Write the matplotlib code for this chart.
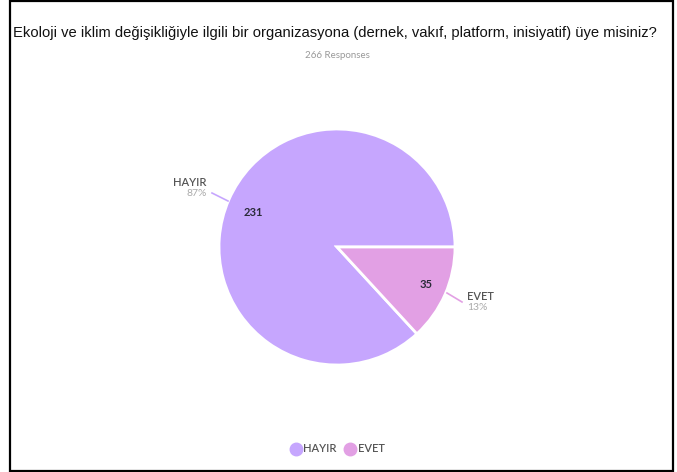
import matplotlib

matplotlib.use("Agg")

import matplotlib.pyplot as plt
from matplotlib.patches import Rectangle
from matplotlib.lines import Line2D

labels = ["HAYIR", "EVET"]
counts = [231, 35]
percents = ["87%", "13%"]
colors = ["#C6A6FE", "#E2A0E4"]

W, H = 677, 472
fig = plt.figure(figsize=(W / 100, H / 100), dpi=100)
plt.rcParams["font.family"] = ["Liberation Sans", "DejaVu Sans"]
lab_font = ["Lato", "DejaVu Sans"]


def fx(x):
    return x / W


def fy(y):
    return 1 - y / H


# frame around the whole picture
fig.patches.append(Rectangle((fx(10), fy(471)), fx(663), 470 / H, transform=fig.transFigure,
                             fill=False, edgecolor="black", linewidth=1.6))

fig.text(fx(335), fy(33), "Ekoloji ve iklim değişikliğiyle ilgili bir organizasyona (dernek, vakıf, platform, inisiyatif) üye misiniz?",
         ha="center", va="center", fontsize=10.65, color="#111111")
fig.text(fx(337), fy(56), "266 Responses", ha="center", va="center", fontsize=7,
         color="#999999", family=lab_font)

cx, cy, r = 337, 247, 118
ax = fig.add_axes([fx(cx - r), fy(cy + r), 2 * r / W, 2 * r / H])
wedges, _ = ax.pie(counts, colors=colors, startangle=0, counterclock=True,
                   wedgeprops=dict(edgecolor="white", linewidth=2))
ax.set_aspect("equal")
ax.set_xlim(-1, 1)
ax.set_ylim(-1, 1)

# values inside slices
fig.text(fx(253), fy(213), str(counts[0]), ha="center", va="center", fontsize=8,
         fontweight="bold", color="#2b2b3a", family=lab_font)
fig.text(fx(426), fy(284), str(counts[1]), ha="center", va="center", fontsize=8,
         fontweight="bold", color="#2b2b3a", family=lab_font)

# outside labels with leader lines
fig.text(fx(207), fy(183), labels[0], ha="right", va="center", fontsize=8, color="#555555",
         family=lab_font, fontweight="semibold")
fig.text(fx(207), fy(193), percents[0], ha="right", va="center", fontsize=7.5, color="#aaaaaa",
         family=lab_font)
fig.add_artist(Line2D([fx(212), fx(228)], [fy(193), fy(201)], color=colors[0], linewidth=1.2))

fig.text(fx(467), fy(296), labels[1], ha="left", va="center", fontsize=8, color="#555555",
         family=lab_font, fontweight="semibold")
fig.text(fx(467), fy(307), percents[1], ha="left", va="center", fontsize=7.5, color="#aaaaaa",
         family=lab_font)
fig.add_artist(Line2D([fx(447), fx(462)], [fy(293), fy(302)], color=colors[1], linewidth=1.2))

# legend
handles = [Line2D([], [], marker="o", linestyle="", markersize=9, color=c) for c in colors]
fig.legend(handles, labels, loc="center", bbox_to_anchor=(fx(337), fy(449)), ncol=2,
           frameon=False, handletextpad=0.1, columnspacing=0.6, handlelength=1.2,
           labelcolor="#555555", prop=dict(family=lab_font, size=8, weight="semibold"))

fig.savefig("out.png", dpi=100)
